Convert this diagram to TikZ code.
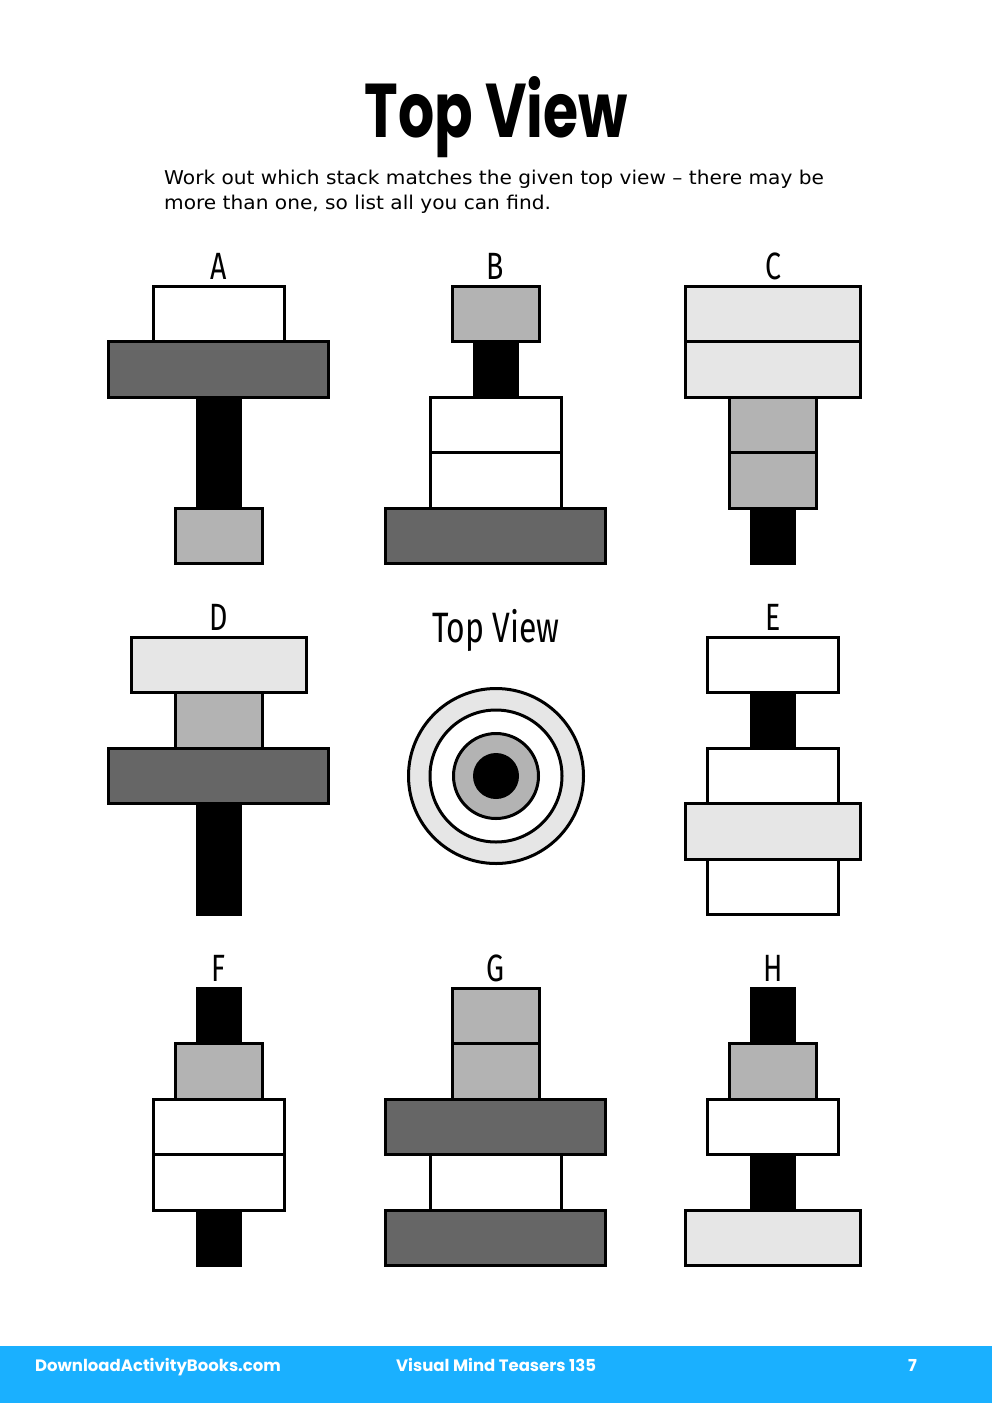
\documentclass[tikz,border=0pt]{standalone}
\usepackage{fontspec}
\setmainfont{DejaVu Sans}
\newfontfamily\popfont{Poppins}
\newfontfamily\labfont[FakeStretch=0.75]{Fira Sans}
\newfontfamily\introfont[FakeStretch=1.06]{DejaVu Sans}
\definecolor{dkgray}{HTML}{666666}
\definecolor{mdgray}{HTML}{B3B3B3}
\definecolor{ltgray}{HTML}{E6E6E6}
\definecolor{footblue}{RGB}{26,176,255}
\tikzset{
 blk/.style={draw=black,line width=3pt,inner sep=0pt,outer sep=0pt,minimum height=55.4pt},
 dk/.style={fill=dkgray,minimum width=220pt},
 wh/.style={fill=white,minimum width=131pt},
 lt/.style={fill=ltgray,minimum width=175pt},
 gy/.style={fill=mdgray,minimum width=87pt},
 bk/.style={fill=black,minimum width=43pt},
 lab/.style={font=\labfont\fontsize{38}{38}\selectfont,inner sep=0pt,anchor=base},
 ring/.style={draw=black,line width=3pt},
 foot/.style={font=\popfont\bfseries\fontsize{16.5}{18}\selectfont,text=white,inner sep=0pt,anchor=base west},
 intro/.style={font=\introfont\fontsize{19}{25}\selectfont,inner sep=0pt,anchor=base west},
}
\newcommand\stk[8]{%
 \node[lab] (lab#1) at (#2,{#3-6}) {#1};
 \node[blk,#4] (#1-1) at (#2,{#3+29.2}) {};
 \node[blk,#5] (#1-2) at (#2,{#3+84.6}) {};
 \node[blk,#6] (#1-3) at (#2,{#3+140}) {};
 \node[blk,#7] (#1-4) at (#2,{#3+195.4}) {};
 \node[blk,#8] (#1-5) at (#2,{#3+250.8}) {};
}
\begin{document}
\begin{tikzpicture}[x=1pt,y=-1pt]
\useasboundingbox (0,0) rectangle (992,1403);
\fill[white] (0,0) rectangle (992,1403);
% title
\node[anchor=base,inner sep=0pt] (title) at (496.5,137) {\resizebox{263pt}{61pt}{\popfont\bfseries Top View}};
\node[intro] (intro1) at (164,184) {Work out which stack matches the given top view – there may be};
\node[intro] (intro2) at (164,209) {more than one, so list all you can find.};
% stacks
\stk{A}{218.5}{285}{wh}{dk}{bk}{bk}{gy}
\stk{B}{495.5}{285}{gy}{bk}{wh}{wh}{dk}
\stk{C}{773}{285}{lt}{lt}{gy}{gy}{bk}
\stk{D}{218.5}{636}{lt}{gy}{dk}{bk}{bk}
\stk{E}{773}{636}{wh}{bk}{wh}{lt}{wh}
\stk{F}{218.5}{987}{bk}{gy}{wh}{wh}{bk}
\stk{G}{495.5}{987}{gy}{gy}{dk}{wh}{dk}
\stk{H}{773}{987}{bk}{gy}{wh}{bk}{lt}
% top view
\node[lab,font=\labfont\fontsize{42.5}{42.5}\selectfont] (tvlab) at (496,642) {Top View};
\draw[ring,fill=ltgray] (496,776) circle[radius=87.5];
\draw[ring,fill=white] (496,776) circle[radius=66];
\draw[ring,fill=mdgray] (496,776) circle[radius=42.5];
\fill[black] (496,776) circle[radius=23];
% footer
\fill[footblue] (0,1346) rectangle (992,1403);
\node[foot] (f1) at (35,1371) {DownloadActivityBooks.com};
\node[foot] (f2) at (396,1371) {Visual Mind Teasers 135};
\node[foot] (f3) at (908,1371) {7};
\end{tikzpicture}
\end{document}
